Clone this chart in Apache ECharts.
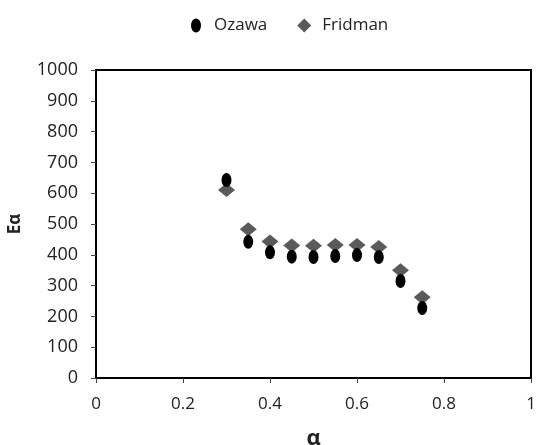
<!DOCTYPE html>
<html>
<head>
<meta charset="utf-8">
<script src="https://cdn.jsdelivr.net/npm/echarts@6/dist/echarts.min.js"></script>
<style>
  html, body { margin: 0; padding: 0; background: #fff; }
  #main { width: 536px; height: 445px; }
</style>
</head>
<body>
<div id="main"></div>
<script>
// alpha values (x) and activation energies
var alphas = [0.3, 0.35, 0.4, 0.45, 0.5, 0.55, 0.6, 0.65, 0.7, 0.75];
var ozawa = [643, 442, 408, 394, 393, 396, 399, 393, 315, 227];
var fridman = [610, 483, 443, 430, 429, 432, 432, 425, 350, 262];
var seriesNames = ['Ozawa', 'Fridman'];

var ellipse = 'path://M0,-7A5,7 0 1 1 0,7A5,7 0 1 1 0,-7Z';

function pairs(ys) {
    return alphas.map(function(a, i) { return [a, ys[i]]; });
}

var font = '"Open Sans", "DejaVu Sans", sans-serif';

var chart = echarts.init(document.getElementById('main'));
chart.setOption({
    animation: false,
    backgroundColor: '#fff',
    legend: {
        top: 12,
        left: 186,
        itemGap: 30,
        itemWidth: 14,
        itemHeight: 14,
        textStyle: { fontFamily: font, fontSize: 17, color: '#222', padding: [0, 0, 0, 6] },
        data: [
            { name: seriesNames[0], icon: ellipse, itemStyle: { color: '#000', opacity: 1 } },
            { name: seriesNames[1], icon: 'diamond', itemStyle: { color: '#5a5a5a', opacity: 1 } }
        ]
    },
    grid: { left: 96, right: 5, top: 70, bottom: 67, outerBoundsMode: 'none', containLabel: false },
    xAxis: {
        type: 'value',
        min: 0, max: 1, interval: 0.2,
        name: 'α',
        nameLocation: 'middle',
        nameGap: 50,
        nameMoveOverlap: false,
        nameTextStyle: { fontFamily: font, fontSize: 22, fontWeight: 'bold', color: '#222' },
        axisLine: { show: false },
        axisTick: { show: true, length: 5, lineStyle: { color: '#444' } },
        axisLabel: { fontFamily: font, fontSize: 17, color: '#222', margin: 18 },
        splitLine: { show: false }
    },
    yAxis: {
        type: 'value',
        min: 0, max: 1000, interval: 100,
        name: 'Eα',
        nameLocation: 'middle',
        nameGap: 72,
        nameMoveOverlap: false,
        nameRotate: 90,
        nameTextStyle: { fontFamily: font, fontSize: 17, fontWeight: 'bold', color: '#222' },
        axisLine: { show: false },
        axisTick: { show: true, length: 5, lineStyle: { color: '#444' } },
        axisLabel: {
            fontFamily: font, fontSize: 18, color: '#222', margin: 18,
            formatter: function(v) { return String(v); }
        },
        splitLine: { show: false }
    },
    graphic: [{
        type: 'rect',
        shape: { x: 96, y: 70, width: 435, height: 308 },
        style: { fill: 'none', stroke: '#000', lineWidth: 2 },
        silent: true
    }],
    series: [
        {
            name: seriesNames[1],
            type: 'scatter',
            symbol: 'diamond',
            symbolSize: [17, 14],
            itemStyle: { color: '#5a5a5a', opacity: 1 },
            z: 2,
            data: pairs(fridman)
        },
        {
            name: seriesNames[0],
            type: 'scatter',
            symbol: ellipse,
            symbolSize: [10, 14],
            itemStyle: { color: '#000', opacity: 1 },
            z: 3,
            data: pairs(ozawa)
        }
    ]
});
</script>
</body>
</html>
